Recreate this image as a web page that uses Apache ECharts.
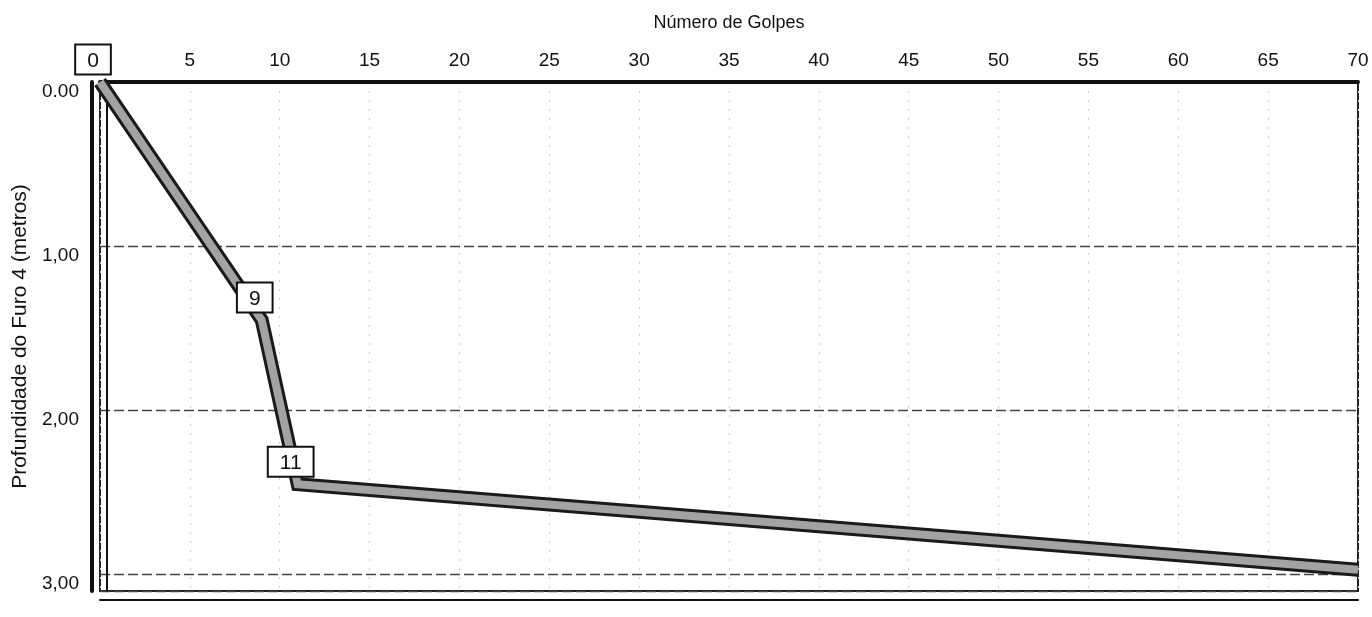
<!DOCTYPE html>
<html>
<head>
<meta charset="utf-8">
<script src="https://cdn.jsdelivr.net/npm/echarts@6/dist/echarts.min.js"></script>
<style>html,body{margin:0;padding:0;background:#fff}#c{width:1372px;height:617px}</style>
</head>
<body>
<div id="c"></div>
<script>
// data
const golpes = [0, 9, 11, 70];
const profundidade = [0, 1.45, 2.45, 2.97];
const labeledPoints = [true, true, true, false];
const yTickValues = [0, 1, 2, 3];
const yTickLabels = ['0.00', '1,00', '2,00', '3,00'];
const xTitle = 'Número de Golpes';
const yTitle = 'Profundidade do Furo 4 (metros)';

const pts = golpes.map((g, i) => ({
  value: [g, profundidade[i]],
  label: { show: labeledPoints[i] }
}));

const font = 'Liberation Sans, Arial, sans-serif';
const chart = echarts.init(document.getElementById('c'));
chart.setOption({
  animation: false,
  grid: { left: 100, right: 14, top: 82, bottom: 26, show: true, borderColor: '#222', borderWidth: 2, backgroundColor: 'transparent' },
  xAxis: [{
    type: 'value', position: 'top', min: 0, max: 70, interval: 5,
    name: xTitle, nameLocation: 'middle', nameGap: 50,
    nameTextStyle: { fontFamily: font, fontSize: 18, color: '#111' },
    axisLine: { show: true, onZero: false, lineStyle: { color: '#111', width: 4 } },
    axisTick: { show: false },
    axisLabel: { fontFamily: font, fontSize: 19, color: '#111', margin: 12 },
    splitLine: { show: true, lineStyle: { color: '#cfcfcf', type: [2, 7], width: 1 } }
  }, {
    type: 'value', position: 'bottom', min: 0, max: 70, offset: 9,
    axisLine: { show: true, onZero: false, lineStyle: { color: '#111', width: 2 } },
    axisTick: { show: false }, axisLabel: { show: false }, splitLine: { show: false }
  }],
  yAxis: [{
    type: 'value', position: 'left', inverse: true, min: 0, max: 3.1, interval: 1, offset: 8,
    name: yTitle, nameLocation: 'middle', nameGap: 60, nameRotate: 90,
    nameTextStyle: { fontFamily: font, fontSize: 21, color: '#111' },
    axisLine: { show: true, onZero: false, lineStyle: { color: '#111', width: 4 } },
    axisTick: { show: false },
    axisLabel: {
      fontFamily: font, fontSize: 19, color: '#111', margin: 13, verticalAlign: 'top',
      formatter: v => { const i = yTickValues.indexOf(Math.round(v * 100) / 100); return i >= 0 ? yTickLabels[i] : ''; }
    },
    splitLine: { show: true, lineStyle: { color: '#444', type: [10, 4], width: 1.3 } }
  }, {
    type: 'value', position: 'left', inverse: true, min: 0, max: 3.1, offset: -7,
    axisLine: { show: true, onZero: false, lineStyle: { color: '#111', width: 2 } },
    axisTick: { show: false }, axisLabel: { show: false }, splitLine: { show: false }
  }],
  series: [{
    type: 'line', data: golpes.map((g, i) => [g, profundidade[i]]), symbol: 'none', z: 3,
    lineStyle: { color: '#1a1a1a', width: 14, join: 'miter', cap: 'butt' },
    silent: true
  }, {
    type: 'line', data: pts, symbol: 'circle', symbolSize: 1, showSymbol: true, z: 4,
    itemStyle: { color: '#a3a3a3' },
    lineStyle: { color: '#a3a3a3', width: 8, join: 'miter', cap: 'butt' },
    label: {
      show: true, position: 'top', distance: 8, offset: [-7, 0],
      formatter: p => String(p.value[0]),
      fontFamily: font, fontSize: 21, color: '#111',
      backgroundColor: '#fff', borderColor: '#111', borderWidth: 2,
      padding: [5, 11, 2, 11]
    }
  }]
});
</script>
</body>
</html>
